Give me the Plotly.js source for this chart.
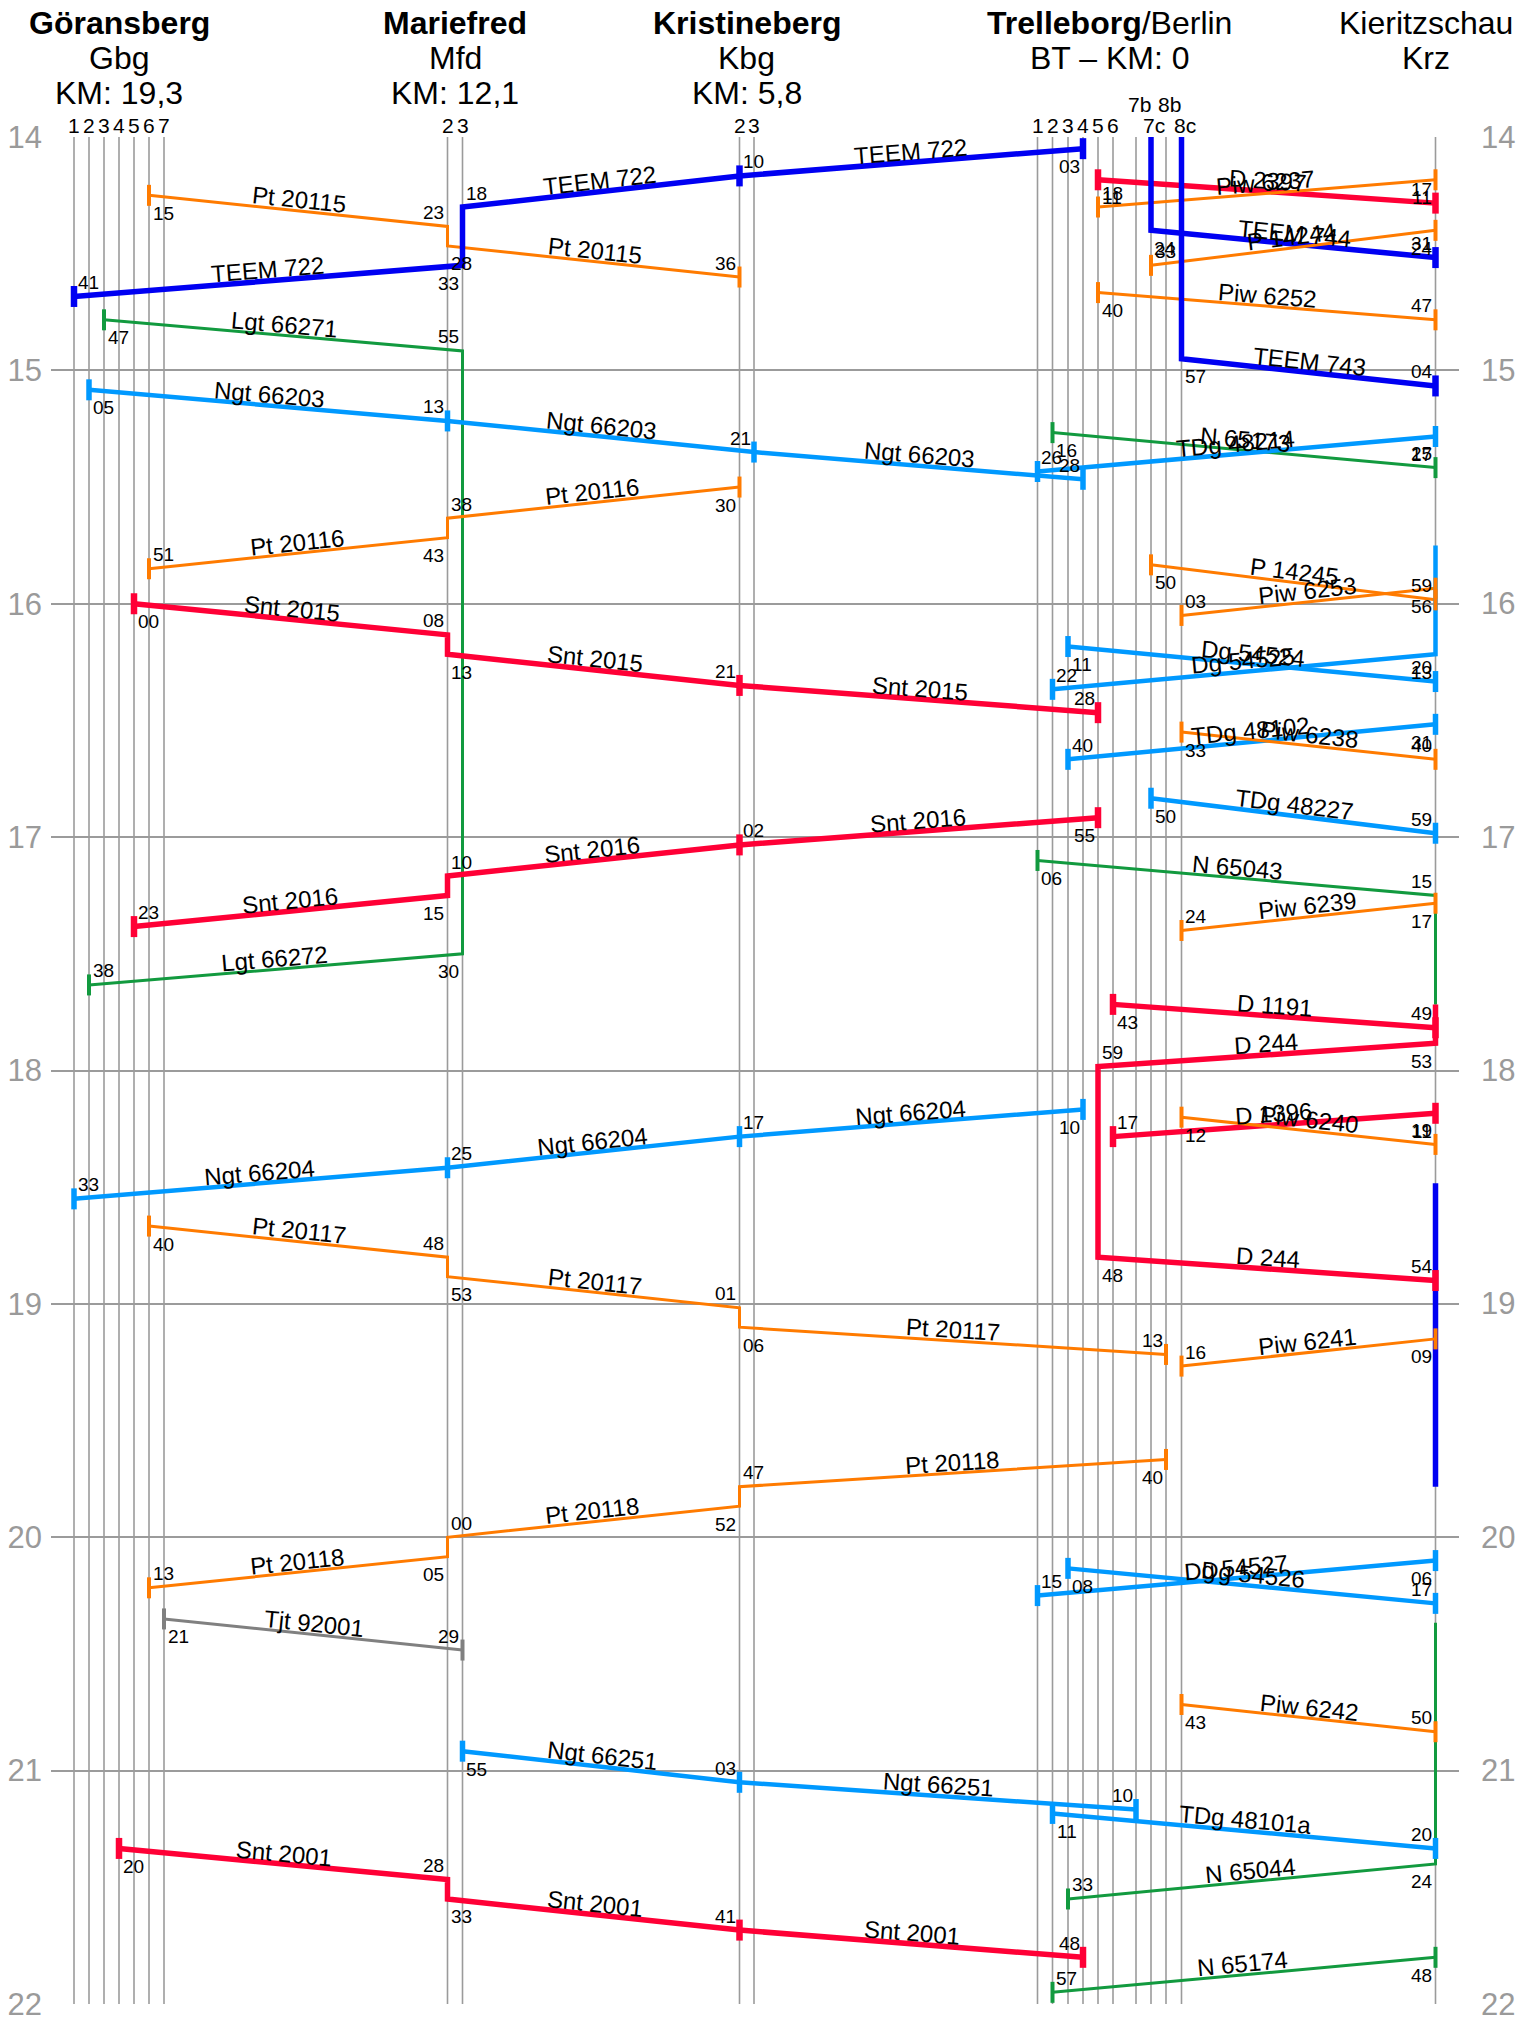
<!DOCTYPE html>
<html><head><meta charset="utf-8">
<script src="https://cdn.plot.ly/plotly-3.0.1.min.js"></script>
<style>html,body{margin:0;padding:0;background:#fff}#chart{width:1532px;height:2025px}</style>
</head><body><div id="chart"></div>
<script>
// ================= DATA =================
const hourTicks = [14, 15, 16, 17, 18, 19, 20, 21, 22];
const hourLabels = ['14', '15', '16', '17', '18', '19', '20', '21', '22'];

const stationHeaders = [
  ['<b>Göransberg</b>', 'Gbg', 'KM: 19,3'],
  ['<b>Mariefred</b>', 'Mfd', 'KM: 12,1'],
  ['<b>Kristineberg</b>', 'Kbg', 'KM: 5,8'],
  ['<b>Trelleborg</b>/Berlin', 'BT – KM: 0'],
  ['Kieritzschau', 'Krz']
];
const stationTracks = [
  ['Gbg1', 'Gbg2', 'Gbg3', 'Gbg4', 'Gbg5', 'Gbg6', 'Gbg7'],
  ['Mfd2', 'Mfd3'],
  ['Kbg2', 'Kbg3'],
  ['T1', 'T2', 'T3', 'T4', 'T5', 'T6', '7b', '7c', '8b', '8c'],
  ['Krz']
];
const trackLabels = {
  Gbg1: '1', Gbg2: '2', Gbg3: '3', Gbg4: '4', Gbg5: '5', Gbg6: '6', Gbg7: '7',
  Mfd2: '2', Mfd3: '3', Kbg2: '2', Kbg3: '3',
  T1: '1', T2: '2', T3: '3', T4: '4', T5: '5', T6: '6', '7b': '7b', '7c': '7c', '8b': '8b', '8c': '8c'
};

const trainNames = [
  ['Pt 20115'], ['TEEM 722'], ['Lgt 66271', 'Lgt 66272'], ['Ngt 66203'], ['Pt 20116'],
  ['Snt 2015'], ['Snt 2016'], ['Ngt 66204'], ['Pt 20117'], ['Pt 20118'], ['Tjt 92001'],
  ['Ngt 66251'], ['Snt 2001'],
  ['D 2397'], ['Piw 6237'], ['TEEM 744'], ['P 14244'], ['Piw 6252'], ['TEEM 743'],
  ['N 65173'], ['TDg 48214'], ['P 14245'], ['Piw 6253'], ['Dg 54525'], ['Dg 54524'],
  ['TDg 48102'], ['Piw 6238'], ['TDg 48227'], ['N 65043'], ['Piw 6239'], ['D 1191'],
  ['D 244'], ['D 1396'], ['Piw 6240'], [], ['Piw 6241'], ['Dg 54527'], ['Dg 54526'],
  ['Piw 6242'], ['TDg 48101a'], ['N 65044'], ['N 65174']
];
const trainKinds = [
  'Pt', 'TEEM', 'Lgt', 'Ngt', 'Pt',
  'Snt', 'Snt', 'Ngt', 'Pt', 'Pt', 'Tjt',
  'Ngt', 'Snt',
  'Snt', 'Pt', 'TEEM', 'Pt', 'Pt', 'TEEM',
  'Lgt', 'Ngt', 'Pt', 'Pt', 'Ngt', 'Ngt',
  'Ngt', 'Pt', 'Ngt', 'Lgt', 'Pt', 'Snt',
  'Snt', 'Snt', 'Pt', 'TEEM', 'Pt', 'Ngt', 'Ngt',
  'Pt', 'Ngt', 'Lgt', 'Lgt'
];
// a = arrival, d = departure, p = pass, x = unlabelled continuation
const trainStops = [
  ['Gbg6 d14:15', 'Mfd2 a14:23 d14:28', 'Kbg2 a14:36'],
  ['T4 d14:03', 'Kbg2 p14:10', 'Mfd3 a14:18 d14:33', 'Gbg1 a14:41'],
  ['Gbg3 d14:47', 'Mfd3 a14:55 d17:30', 'Gbg2 a17:38'],
  ['Gbg2 d15:05', 'Mfd2 p15:13', 'Kbg3 p15:21', 'T4 a15:28'],
  ['Kbg2 d15:30', 'Mfd2 a15:38 d15:43', 'Gbg6 a15:51'],
  ['Gbg5 d16:00', 'Mfd2 a16:08 d16:13', 'Kbg2 p16:21', 'T5 a16:28'],
  ['T5 d16:55', 'Kbg2 p17:02', 'Mfd2 a17:10 d17:15', 'Gbg5 a17:23'],
  ['T4 d18:10', 'Kbg2 p18:17', 'Mfd2 p18:25', 'Gbg1 a18:33'],
  ['Gbg6 d18:40', 'Mfd2 a18:48 d18:53', 'Kbg2 a19:01 d19:06', '8b a19:13'],
  ['8b d19:40', 'Kbg2 a19:47 d19:52', 'Mfd2 a20:00 d20:05', 'Gbg6 a20:13'],
  ['Gbg7 d20:21', 'Mfd3 a20:29'],
  ['Mfd3 d20:55', 'Kbg2 p21:03', '7b a21:10'],
  ['Gbg4 d21:20', 'Mfd2 a21:28 d21:33', 'Kbg2 p21:41', 'T4 a21:48'],
  ['T5 d14:11', 'Krz a14:17'],
  ['Krz d14:11', 'T5 a14:18'],
  ['7c x14:00 d14:24', 'Krz a14:31'],
  ['Krz d14:24', '7c a14:33'],
  ['T5 d14:40', 'Krz a14:47'],
  ['8c x14:00 d14:57', 'Krz a15:04'],
  ['T2 d15:16', 'Krz a15:25'],
  ['Krz d15:17', 'T1 a15:26'],
  ['7c d15:50', 'Krz a15:59'],
  ['Krz d15:56', '8c a16:03'],
  ['Krz x15:45 d16:13', 'T2 a16:22'],
  ['T3 d16:11', 'Krz a16:20'],
  ['Krz d16:31', 'T3 a16:40'],
  ['8c d16:33', 'Krz a16:40'],
  ['7c d16:50', 'Krz a16:59'],
  ['T1 d17:06', 'Krz a17:15 x17:43'],
  ['Krz d17:17', '8c a17:24'],
  ['T6 d17:43', 'Krz a17:49'],
  ['Krz x17:43 d17:53', 'T5 a17:59 d18:48', 'Krz a18:54'],
  ['Krz d18:11', 'T6 a18:17'],
  ['8c d18:12', 'Krz a18:19'],
  ['Krz x18:29 x19:47'],
  ['Krz d19:09', '8c a19:16'],
  ['Krz d20:06', 'T1 a20:15'],
  ['T3 d20:08', 'Krz a20:17'],
  ['8c d20:43', 'Krz a20:50'],
  ['T2 d21:11', 'Krz a21:20'],
  ['Krz x20:22 d21:24', 'T3 a21:33'],
  ['Krz d21:48', 'T2 a21:57']
];

// ================= LAYOUT / STYLE =================
const W = 1532, H = 2025;
const M = {l: 51, r: 73, t: 137, b: 21};
const X0 = 51, X1 = 1459;
const plotW = W - M.l - M.r, plotH = H - M.t - M.b;
const pxPerX = plotW / (X1 - X0), pxPerH = plotH / 8;
const trackPos = {
  Gbg1: 74, Gbg2: 89, Gbg3: 104, Gbg4: 119, Gbg5: 134, Gbg6: 149, Gbg7: 164,
  Mfd2: 447.5, Mfd3: 462.5, Kbg2: 739.5, Kbg3: 754,
  T1: 1037.5, T2: 1052.5, T3: 1068, T4: 1083, T5: 1098, T6: 1113,
  '7b': 1136, '7c': 1151, '8b': 1166, '8c': 1181.5, Krz: 1435.5
};
const kindStyle = {
  Pt: {color: '#ff7b00', width: 3},
  TEEM: {color: '#0000f2', width: 5.5},
  Lgt: {color: '#129a3f', width: 3},
  Ngt: {color: '#0099ff', width: 4.5},
  Snt: {color: '#ff0036', width: 5.5},
  Tjt: {color: '#808080', width: 3}
};
const FONT = 'Liberation Sans, Arial, sans-serif';
const NARROW = 'Liberation Sans Narrow, Liberation Sans, Arial, sans-serif';
const pyToPaper = py => 1 + (M.t - py) / plotH;

function parseTime(s) { const [h, m] = s.split(':'); return +h + (+m) / 60; }
function parseStop(s) {
  const parts = s.split(' ');
  return {track: parts[0], x: trackPos[parts[0]],
    ev: parts.slice(1).map(p => ({type: p[0], t: parseTime(p.slice(1)), mm: p.slice(4)}))};
}

const traces = [];
const annotations = [];
const shapes = [];

// vertical track lines
Object.keys(trackPos).forEach(k => {
  shapes.push({type: 'line', xref: 'x', yref: 'y', x0: trackPos[k], x1: trackPos[k], y0: 14, y1: 22,
    line: {color: '#9b9b9b', width: 1.6}, layer: 'below'});
});

// right-hand hour labels
hourTicks.forEach((h, i) => {
  annotations.push({xref: 'paper', yref: 'y', x: 1, y: h, text: hourLabels[i], showarrow: false,
    xanchor: 'left', yanchor: 'middle', xshift: 20,
    font: {family: NARROW, size: 31, color: '#9a9a9a'}});
});

// headers
stationHeaders.forEach((lines, i) => {
  const tr = stationTracks[i];
  const cx = (trackPos[tr[0]] + trackPos[tr[tr.length - 1]]) / 2;
  const ys = [23, 58, 93];
  lines.forEach((txt, j) => {
    annotations.push({xref: 'x', yref: 'paper', x: cx, y: pyToPaper(ys[j]), text: txt,
      showarrow: false, xanchor: 'center', yanchor: 'middle', xshift: i === 4 ? -10 : 0,
      font: {family: NARROW, size: 32, color: '#000'}});
  });
});
// track labels
Object.keys(trackLabels).forEach(k => {
  const lab = trackLabels[k];
  const upper = (lab === '7b' || lab === '8b');
  annotations.push({xref: 'x', yref: 'paper', x: trackPos[k], y: pyToPaper(upper ? 104 : 125),
    text: lab, showarrow: false, xanchor: 'center', yanchor: 'middle', xshift: lab.length > 1 ? 3 : 0,
    font: {family: NARROW, size: 21, color: '#000'}});
});

// trains
const lineTraces = [], tickTraces = [];
trainStops.forEach((stopsRaw, ti) => {
  const st = kindStyle[trainKinds[ti]];
  const stops = stopsRaw.map(parseStop);
  const xs = [], ys = [];
  stops.forEach(s => s.ev.forEach(e => { xs.push(s.x); ys.push(e.t); }));
  lineTraces.push({type: 'scatter', mode: 'lines', x: xs, y: ys, hoverinfo: 'skip', showlegend: false,
    line: {color: st.color, width: st.width}});
  const tx = [], ty = [];
  stops.forEach((s, si) => {
    const prev = stops[si - 1], next = stops[si + 1];
    s.ev.forEach((e, ei) => {
      const isFirst = si === 0 && ei === 0, isLast = si === stops.length - 1 && ei === s.ev.length - 1;
      if (e.type === 'p' || (isFirst && e.type === 'd') || (isLast && e.type === 'a')) { tx.push(s.x); ty.push(e.t); }
      let side = 0, above = true;
      if (e.type === 'a' || e.type === 'p') { if (!prev) return; side = Math.sign(prev.x - s.x); above = true; }
      else if (e.type === 'd') { if (!next) return; side = Math.sign(next.x - s.x); above = false; }
      else return;
      annotations.push({xref: 'x', yref: 'y', x: s.x, y: e.t, text: e.mm, showarrow: false,
        xanchor: 'center', yanchor: 'middle', xshift: side * 14, yshift: above ? 14 : -18,
        font: {family: FONT, size: 19, color: '#000'}});
    });
  });
  if (tx.length) tickTraces.push({type: 'scatter', mode: 'markers', x: tx, y: ty, hoverinfo: 'skip', showlegend: false,
    marker: {symbol: 'line-ns', size: 15, color: st.color, line: {color: st.color, width: st.width + 1}}});
  // name labels on each inter-station segment
  const names = trainNames[ti];
  if (names.length) {
    for (let si = 0; si < stops.length - 1; si++) {
      const a = stops[si], b = stops[si + 1];
      const t1 = a.ev[a.ev.length - 1].t, t2 = b.ev[0].t;
      let dx = (b.x - a.x) * pxPerX, dy = (t2 - t1) * pxPerH;
      if (dx < 0) { dx = -dx; dy = -dy; }
      const th = Math.atan2(dy, dx);
      annotations.push({xref: 'x', yref: 'y', x: (a.x + b.x) / 2, y: (t1 + t2) / 2,
        text: names[Math.min(si, names.length - 1)], showarrow: false, xanchor: 'center', yanchor: 'middle',
        textangle: th * 180 / Math.PI, xshift: 11 * Math.sin(th), yshift: 11 * Math.cos(th),
        font: {family: FONT, size: 24, color: '#000'}});
    }
  }
});
traces.push(...lineTraces, ...tickTraces);

const layout = {
  width: W, height: H, margin: M, paper_bgcolor: '#fff', plot_bgcolor: '#fff', showlegend: false,
  xaxis: {range: [X0, X1], showgrid: false, zeroline: false, showticklabels: false, showline: false, fixedrange: true},
  yaxis: {range: [22, 14], tickvals: hourTicks, ticktext: hourLabels, showgrid: true, gridcolor: '#9b9b9b', gridwidth: 2,
    zeroline: false, showline: false, ticks: '', ticklabelstandoff: 8,
    tickfont: {family: NARROW, size: 31, color: '#9a9a9a'}},
  shapes: shapes, annotations: annotations
};
Plotly.newPlot('chart', traces, layout, {staticPlot: true});
</script></body></html>
